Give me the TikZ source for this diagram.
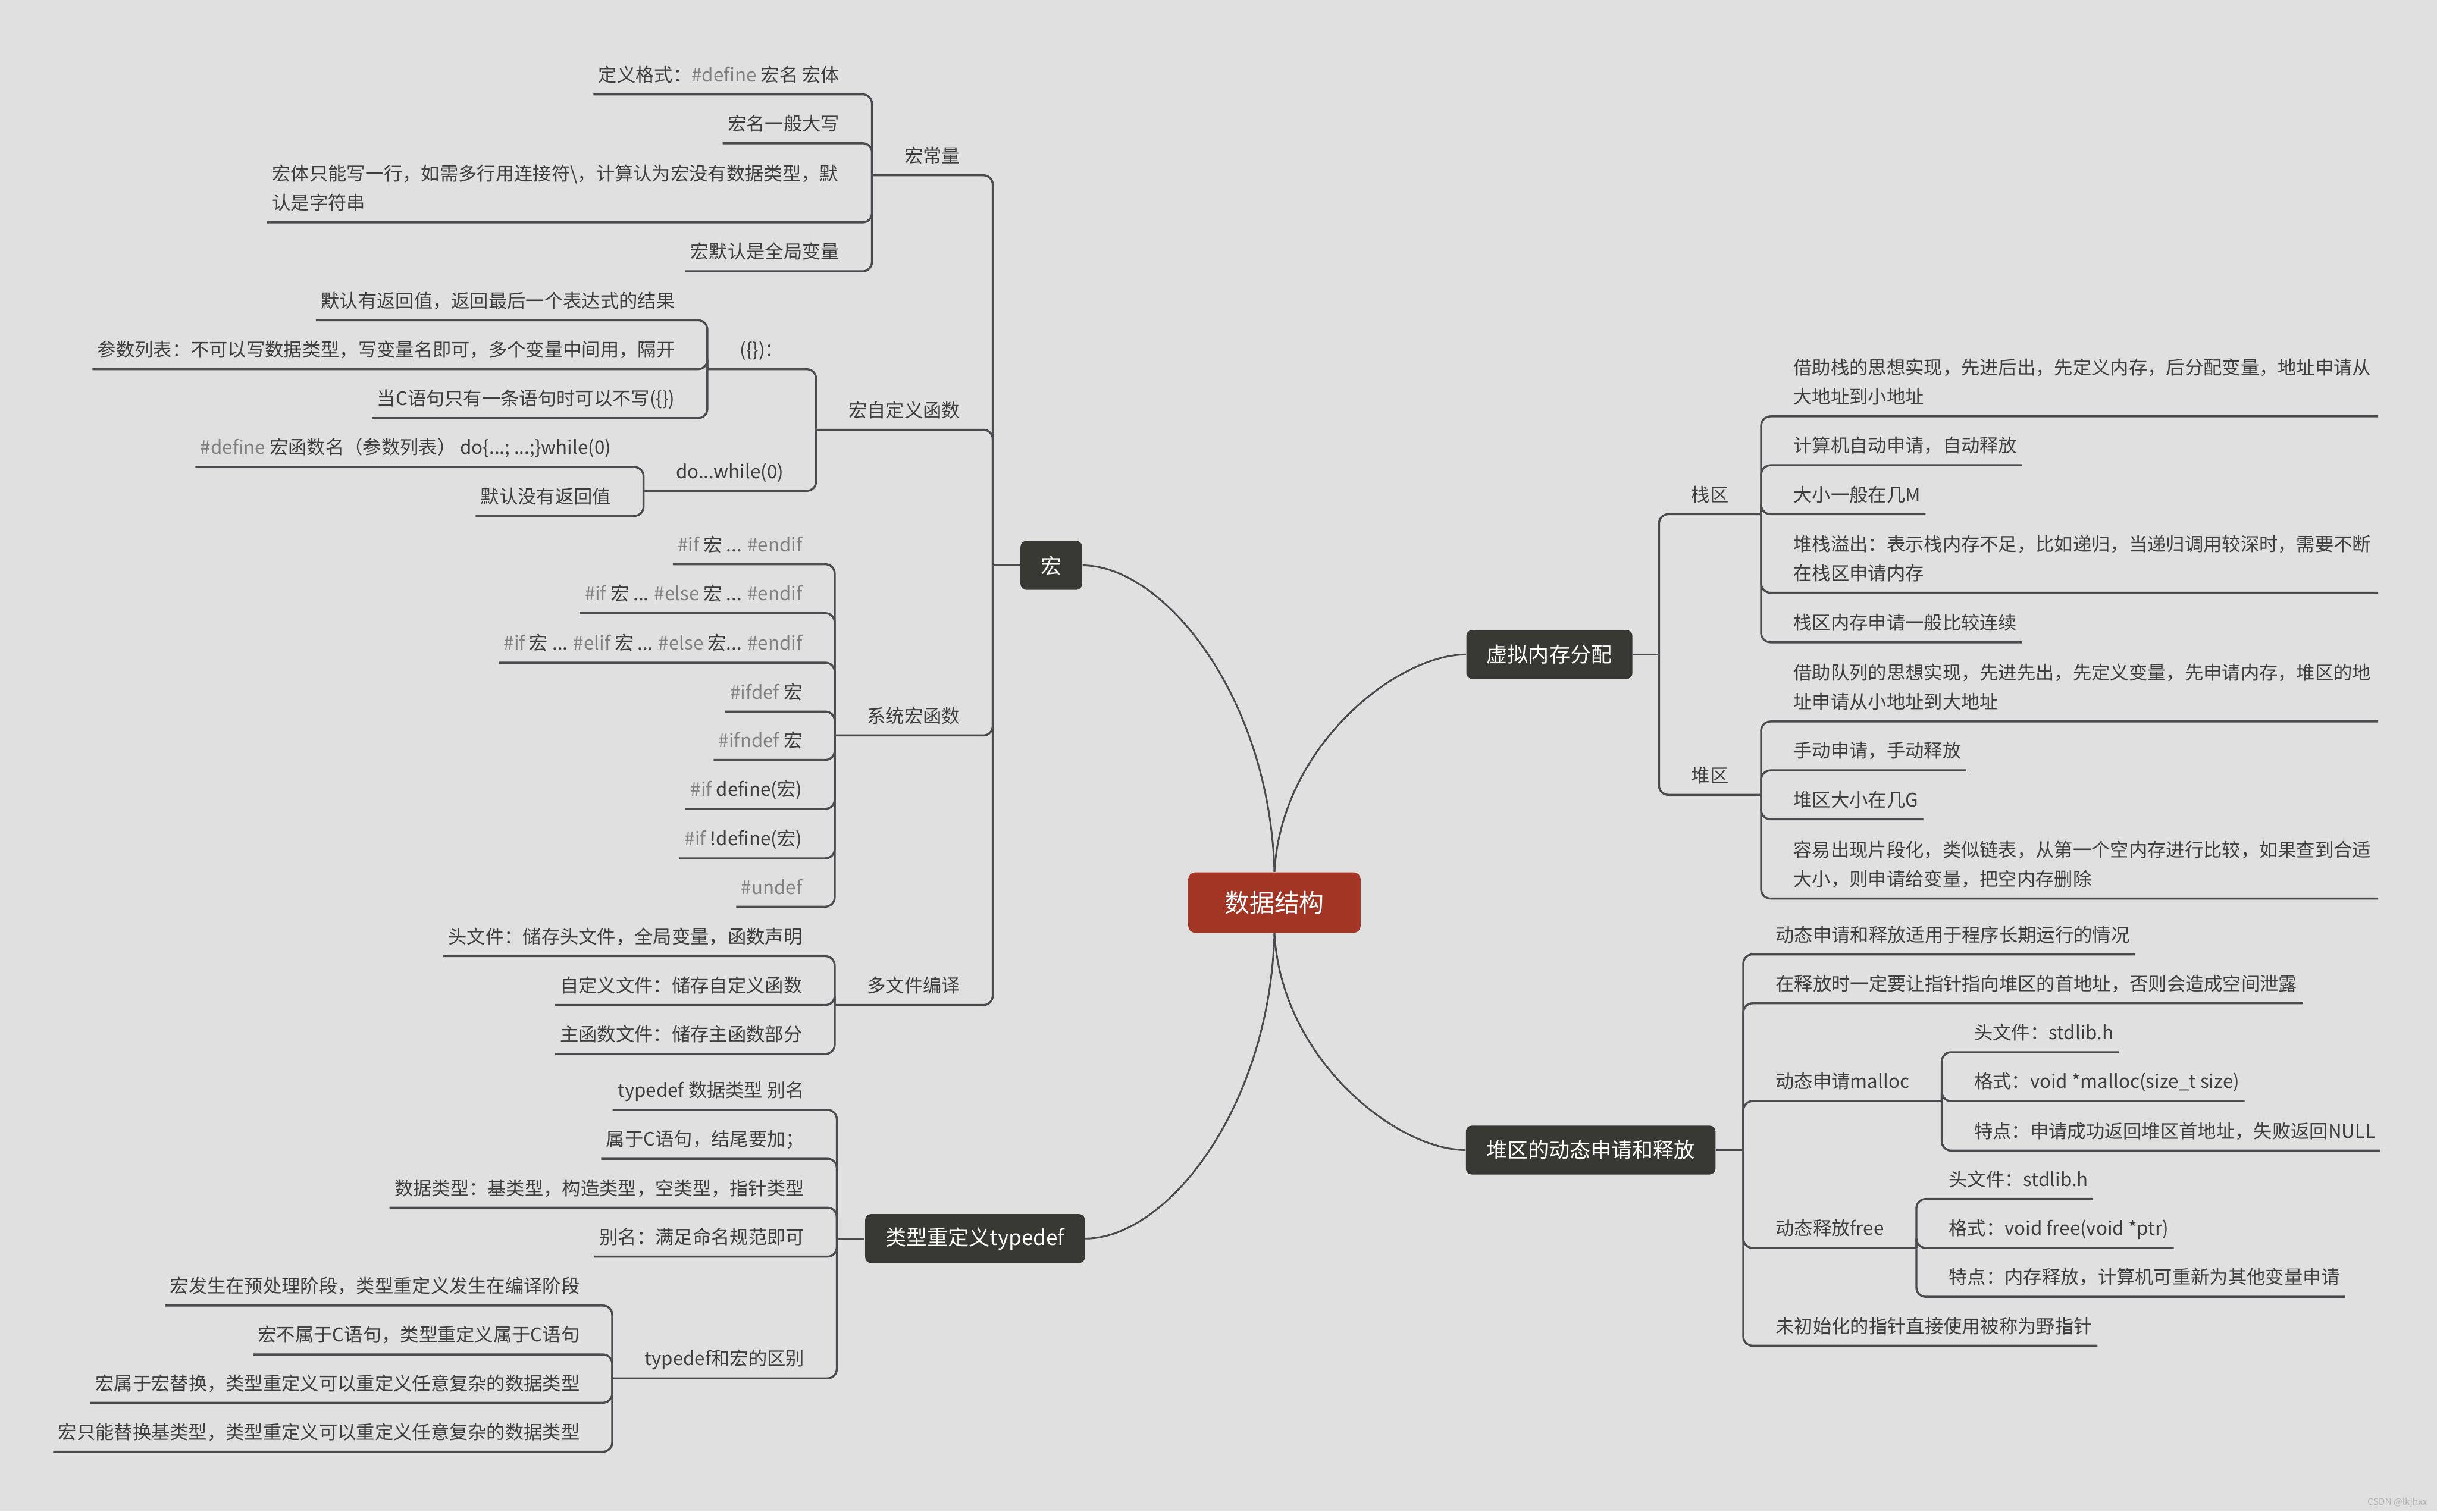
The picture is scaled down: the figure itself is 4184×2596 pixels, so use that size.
\documentclass[tikz,border=0pt]{standalone}
\usepackage{fontspec}
\setmainfont{Noto Sans CJK SC}
\definecolor{paper}{RGB}{224,224,224}
\definecolor{rootred}{RGB}{163,53,37}
\definecolor{topicdark}{RGB}{56,57,51}
\definecolor{wire}{RGB}{74,74,79}
\definecolor{note}{RGB}{62,62,62}
\definecolor{kwgray}{RGB}{128,128,128}
\newcommand{\kwd}[1]{\textcolor{kwgray}{#1}}
\tikzset{
  root/.style={fill=rootred,text=white,rounded corners=1.2mm,minimum width=29.6mm,
    minimum height=10.4mm,font=\fontsize{12.2}{14}\selectfont},
  topic/.style={fill=topicdark,text=white,rounded corners=1mm,inner xsep=3.5mm,
    minimum height=8.4mm,font=\fontsize{10.2}{12}\selectfont},
  leaf/.style={text=note,inner xsep=0.8mm,inner ysep=1.5mm,text depth=0.6mm,
    font=\fontsize{9.1}{14.2}\selectfont},
  leafL/.style={leaf,anchor=south east,xshift=-4.7mm},
  leafR/.style={leaf,anchor=south west,xshift=4.7mm},
  branch/.style={draw=wire,line width=0.35mm,rounded corners=1.6mm},
  trunk/.style={draw=wire,line width=0.3mm},
}
\begin{document}
\begin{tikzpicture}[x=0.1mm,y=-0.1mm]
\fill[paper] (0,0) rectangle (4184,2596);
\useasboundingbox (0,0) rectangle (4184,2596);

\node[root] (core) at (2188,1550) {数据结构};
\node[topic] (hong) at (1805,971) {宏};
\node[topic] (xuni) at (2660,1124) {虚拟内存分配};
\node[topic] (dui) at (2731,1975) {堆区的动态申请和释放};
\node[topic] (tdef) at (1674,2127) {类型重定义typedef};

% main curves
\draw[trunk] (core.north) .. controls +(-8,-300) and +(140,0) .. (hong.east);
\draw[trunk] (core.north) .. controls +(12,-218) and +(-117,0) .. (xuni.west);
\draw[trunk] (core.south) .. controls +(12,218) and +(-117,0) .. (dui.west);
\draw[trunk] (core.south) .. controls +(-8,300) and +(140,0) .. (tdef.east);

\coordinate (jHong) at ([xshift=-4.7mm]hong.west);
\coordinate (jXuni) at ([xshift=4.5mm]xuni.east);
\coordinate (jDui) at ([xshift=4.7mm]dui.east);
\coordinate (jTdef) at ([xshift=-4.8mm]tdef.west);
\draw[branch] (hong.west) -- (jHong);
\draw[branch] (xuni.east) -- (jXuni);
\draw[branch] (dui.east) -- (jDui);
\draw[branch] (tdef.west) -- (jTdef);

% 宏
\node[leafL] (hConst) at (jHong |- 0,301) {宏常量};
\node[leafL] (hFunc) at (jHong |- 0,738) {宏自定义函数};
\node[leafL] (hSys) at (jHong |- 0,1263) {系统宏函数};
\node[leafL] (hFile) at (jHong |- 0,1726) {多文件编译};
\foreach \n in {hConst,hFunc,hSys,hFile}{
  \coordinate (j\n) at ([xshift=-4.7mm]\n.south west);
  \draw[branch] (jHong) |- (j\n);
}

\node[leafL] (c1) at (jhConst |- 0,162) {定义格式：\kwd{\#define} 宏名 宏体};
\node[leafL] (c2) at (jhConst |- 0,246) {宏名一般大写};
\node[leafL] (c3) at (jhConst |- 0,382) {\parbox[b]{97.4mm}{\raggedright 宏体只能写一行，如需多行用连接符\textbackslash，计算认为宏没有数据类型，默\\认是字符串}};
\node[leafL] (c4) at (jhConst |- 0,466) {宏默认是全局变量};
\foreach \n in {c1,c2,c3,c4} \draw[branch] (jhConst) |- (\n.south west);

\node[leafL] (uBrace) at (jhFunc |- 0,634) {(\{\})：};
\node[leafL] (uDo) at (jhFunc |- 0,843) {do...while(0)};
\foreach \n in {uBrace,uDo}{
  \coordinate (j\n) at ([xshift=-4.7mm]\n.south west);
  \draw[branch] (jhFunc) |- (j\n);
}
\node[leafL] (b1) at (juBrace |- 0,550) {默认有返回值，返回最后一个表达式的结果};
\node[leafL] (b2) at (juBrace |- 0,634) {参数列表：不可以写数据类型，写变量名即可，多个变量中间用，隔开};
\node[leafL] (b3) at (juBrace |- 0,718) {当C语句只有一条语句时可以不写(\{\})};
\foreach \n in {b1,b2,b3} \draw[branch] (juBrace) |- (\n.south west);
\node[leafL] (w1) at (juDo |- 0,802) {\kwd{\#define} 宏函数名（参数列表） do\{...; ...;\}while(0)};
\node[leafL] (w2) at (juDo |- 0,886) {默认没有返回值};
\foreach \n in {w1,w2} \draw[branch] (juDo) |- (\n.south west);

\node[leafL] (s1) at (jhSys |- 0,969) {\kwd{\#if} 宏 ... \kwd{\#endif}};
\node[leafL] (s2) at (jhSys |- 0,1053) {\kwd{\#if} 宏 ... \kwd{\#else} 宏 ... \kwd{\#endif}};
\node[leafL] (s3) at (jhSys |- 0,1138) {\kwd{\#if} 宏 ... \kwd{\#elif} 宏 ... \kwd{\#else} 宏... \kwd{\#endif}};
\node[leafL] (s4) at (jhSys |- 0,1222) {\kwd{\#ifdef} 宏};
\node[leafL] (s5) at (jhSys |- 0,1305) {\kwd{\#ifndef} 宏};
\node[leafL] (s6) at (jhSys |- 0,1389) {\kwd{\#if} define(宏)};
\node[leafL] (s7) at (jhSys |- 0,1474) {\kwd{\#if} !define(宏)};
\node[leafL] (s8) at (jhSys |- 0,1557) {\kwd{\#undef}};
\foreach \i in {1,...,8} \draw[branch] (jhSys) |- (s\i.south west);

\node[leafL] (f1) at (jhFile |- 0,1642) {头文件：储存头文件，全局变量，函数声明};
\node[leafL] (f2) at (jhFile |- 0,1726) {自定义文件：储存自定义函数};
\node[leafL] (f3) at (jhFile |- 0,1810) {主函数文件：储存主函数部分};
\foreach \i in {1,2,3} \draw[branch] (jhFile) |- (f\i.south west);

% 类型重定义
\node[leafL] (t1) at (jTdef |- 0,1906) {typedef 数据类型 别名};
\node[leafL] (t2) at (jTdef |- 0,1990) {属于C语句，结尾要加；};
\node[leafL] (t3) at (jTdef |- 0,2074) {数据类型：基类型，构造类型，空类型，指针类型};
\node[leafL] (t4) at (jTdef |- 0,2158) {别名：满足命名规范即可};
\node[leafL] (tDiff) at (jTdef |- 0,2367) {typedef和宏的区别};
\coordinate (jDiff) at ([xshift=-4.7mm]tDiff.south west);
\foreach \i in {1,...,4} \draw[branch] (jTdef) |- (t\i.south west);
\draw[branch] (jTdef) |- (jDiff);
\node[leafL] (d1) at (jDiff |- 0,2242) {宏发生在预处理阶段，类型重定义发生在编译阶段};
\node[leafL] (d2) at (jDiff |- 0,2326) {宏不属于C语句，类型重定义属于C语句};
\node[leafL] (d3) at (jDiff |- 0,2409) {宏属于宏替换，类型重定义可以重定义任意复杂的数据类型};
\node[leafL] (d4) at (jDiff |- 0,2493) {宏只能替换基类型，类型重定义可以重定义任意复杂的数据类型};
\foreach \i in {1,...,4} \draw[branch] (jDiff) |- (d\i.south west);

% 虚拟内存分配
\node[leafR] (zStack) at (jXuni |- 0,883) {栈区};
\node[leafR] (zHeap) at (jXuni |- 0,1365) {堆区};
\foreach \n in {zStack,zHeap}{
  \coordinate (j\n) at ([xshift=4.7mm]\n.south east);
  \draw[branch] (jXuni) |- (j\n);
}
\node[leafR] (k1) at (jzStack |- 0,715) {\parbox[b]{99.5mm}{\raggedright 借助栈的思想实现，先进后出，先定义内存，后分配变量，地址申请从\\大地址到小地址}};
\node[leafR] (k2) at (jzStack |- 0,799) {计算机自动申请，自动释放};
\node[leafR] (k3) at (jzStack |- 0,883) {大小一般在几M};
\node[leafR] (k4) at (jzStack |- 0,1018) {\parbox[b]{99.5mm}{\raggedright 堆栈溢出：表示栈内存不足，比如递归，当递归调用较深时，需要不断\\在栈区申请内存}};
\node[leafR] (k5) at (jzStack |- 0,1103) {栈区内存申请一般比较连续};
\foreach \i in {1,...,5} \draw[branch] (jzStack) |- (k\i.south east);
\node[leafR] (e1) at (jzHeap |- 0,1239) {\parbox[b]{99.5mm}{\raggedright 借助队列的思想实现，先进先出，先定义变量，先申请内存，堆区的地\\址申请从小地址到大地址}};
\node[leafR] (e2) at (jzHeap |- 0,1323) {手动申请，手动释放};
\node[leafR] (e3) at (jzHeap |- 0,1407) {堆区大小在几G};
\node[leafR] (e4) at (jzHeap |- 0,1543) {\parbox[b]{99.5mm}{\raggedright 容易出现片段化，类似链表，从第一个空内存进行比较，如果查到合适\\大小，则申请给变量，把空内存删除}};
\foreach \i in {1,...,4} \draw[branch] (jzHeap) |- (e\i.south east);

% 堆区的动态申请和释放
\node[leafR] (g1) at (jDui |- 0,1639) {动态申请和释放适用于程序长期运行的情况};
\node[leafR] (g2) at (jDui |- 0,1723) {在释放时一定要让指针指向堆区的首地址，否则会造成空间泄露};
\node[leafR] (gMalloc) at (jDui |- 0,1891) {动态申请malloc};
\node[leafR] (gFree) at (jDui |- 0,2143) {动态释放free};
\node[leafR] (g5) at (jDui |- 0,2311) {未初始化的指针直接使用被称为野指针};
\foreach \n in {g1,g2,g5} \draw[branch] (jDui) |- (\n.south east);
\foreach \n in {gMalloc,gFree}{
  \coordinate (j\n) at ([xshift=4.7mm]\n.south east);
  \draw[branch] (jDui) |- (j\n);
}
\node[leafR] (m1) at (jgMalloc |- 0,1807) {头文件：stdlib.h};
\node[leafR] (m2) at (jgMalloc |- 0,1891) {格式：void *malloc(size\_t size)};
\node[leafR] (m3) at (jgMalloc |- 0,1976) {特点：申请成功返回堆区首地址，失败返回NULL};
\foreach \i in {1,2,3} \draw[branch] (jgMalloc) |- (m\i.south east);
\node[leafR] (r1) at (jgFree |- 0,2059) {头文件：stdlib.h};
\node[leafR] (r2) at (jgFree |- 0,2143) {格式：void free(void *ptr)};
\node[leafR] (r3) at (jgFree |- 0,2227) {特点：内存释放，计算机可重新为其他变量申请};
\foreach \i in {1,2,3} \draw[branch] (jgFree) |- (r\i.south east);

\node[font=\fontsize{4.5}{5}\selectfont,text=black!30,anchor=base east,inner sep=0pt] (mark) at (4168,2585) {CSDN @lkjhxx};
\end{tikzpicture}
\end{document}
